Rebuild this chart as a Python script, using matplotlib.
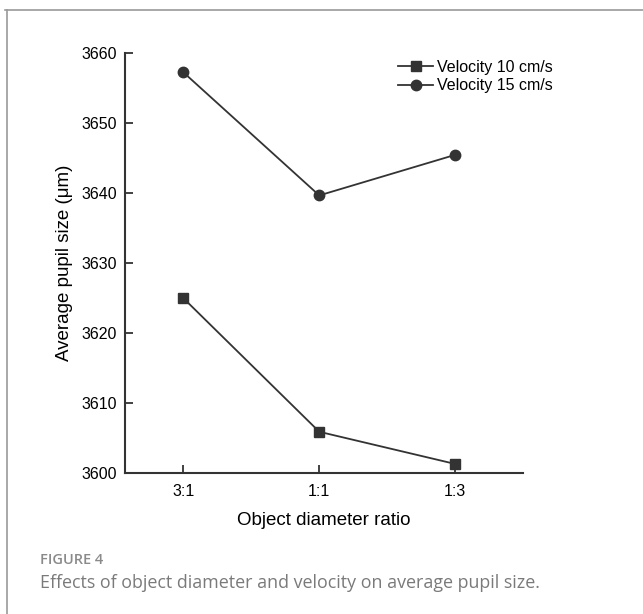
import matplotlib.pyplot as plt
from matplotlib.lines import Line2D

# Average pupil size by object diameter ratio, one line per velocity
ratios = ['3:1', '1:1', '1:3']
velocity_10 = [3625.0, 3605.9, 3601.3]
velocity_15 = [3657.3, 3639.7, 3645.5]
y_ticks = [3600, 3610, 3620, 3630, 3640, 3650, 3660]

plt.rcParams['font.family'] = ['Liberation Sans', 'DejaVu Sans']

fig = plt.figure(figsize=(6.43, 6.14), dpi=100)
ax = fig.add_axes([0.1944, 0.2296, 0.619, 0.6833])

x = range(len(ratios))
dark = '#333333'
ax.plot(x, velocity_10, color=dark, lw=1.3, marker='s', ms=7, label='Velocity 10 cm/s')
ax.plot(x, velocity_15, color=dark, lw=1.3, marker='o', ms=7.5, label='Velocity 15 cm/s')

ax.set_xlim(-0.43, 2.5)
ax.set_ylim(3600, 3660)
ax.set_xticks(list(x))
ax.set_xticklabels(ratios)
ax.set_yticks(y_ticks)
ax.tick_params(direction='in', length=6, width=1.3, color=dark, labelsize=11.5, pad=8)
ax.tick_params(axis='y', pad=6)

for side in ['top', 'right']:
    ax.spines[side].set_visible(False)
for side in ['left', 'bottom']:
    ax.spines[side].set_linewidth(1.5)
    ax.spines[side].set_color(dark)

ax.set_xlabel('Object diameter ratio', fontsize=13.5, labelpad=9)
ax.set_ylabel('Average pupil size (μm)', fontsize=13.5, labelpad=6)

ax.legend(loc='upper left', bbox_to_anchor=(398 / 643, 1 - 60 / 614), bbox_transform=fig.transFigure,
          frameon=False, fontsize=11.5, borderpad=0, borderaxespad=0,
          handlelength=2.2, handletextpad=0.25, labelspacing=0.2)

# thin frame around the figure panel
frame = '#9a9a9a'
fig.add_artist(Line2D([0.008, 1.0], [0.984, 0.984], color=frame, lw=1.2))
fig.add_artist(Line2D([0.0105, 0.0105], [0.0, 0.984], color=frame, lw=1.2))

fig.text(0.062, 0.088, 'FIGURE 4', color='#8a8a8a', fontsize=10.5, fontweight='semibold',
         family=['Open Sans', 'DejaVu Sans'], va='center')
fig.text(0.062, 0.05, 'Effects of object diameter and velocity on average pupil size.',
         color='#7a7a7a', fontsize=12.9, family=['Open Sans', 'DejaVu Sans'], va='center')

fig.savefig('out.png', dpi=100)
